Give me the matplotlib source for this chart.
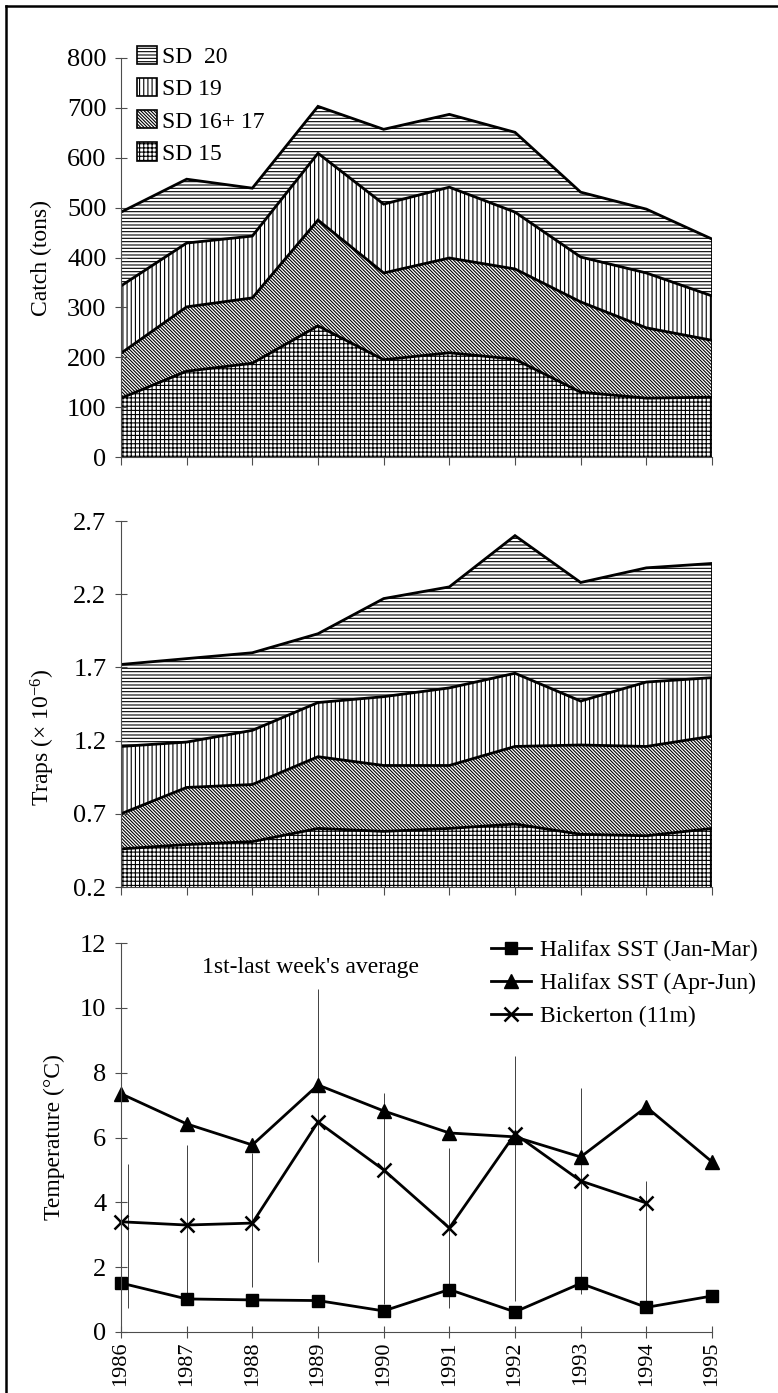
import numpy as np
import matplotlib
matplotlib.use("Agg")
import matplotlib.pyplot as plt
from matplotlib.patches import Patch
from matplotlib.lines import Line2D

# ---- data ----
years = [1986, 1987, 1988, 1989, 1990, 1991, 1992, 1993, 1994, 1995]

# catch (tons) per area, stacked bottom -> top
catch_sd15 = [118, 172, 188, 263, 195, 209, 196, 130, 118, 120]
catch_sd1617 = [90, 129, 131, 212, 174, 190, 181, 181, 141, 114]
catch_sd19 = [135, 128, 124, 134, 138, 142, 114, 90, 110, 89]
catch_sd20 = [148, 128, 96, 94, 150, 146, 160, 130, 128, 114]

# traps (x 10^-6) per area, stacked bottom -> top
traps_sd15 = [0.46, 0.49, 0.51, 0.60, 0.58, 0.60, 0.63, 0.56, 0.55, 0.60]
traps_sd1617 = [0.24, 0.39, 0.39, 0.49, 0.45, 0.43, 0.53, 0.61, 0.61, 0.63]
traps_sd19 = [0.46, 0.31, 0.37, 0.37, 0.47, 0.53, 0.50, 0.30, 0.44, 0.40]
traps_sd20 = [0.56, 0.57, 0.53, 0.47, 0.67, 0.69, 0.94, 0.81, 0.78, 0.78]

layer_labels = ["SD 15", "SD 16+ 17", "SD 19", "SD  20"]
layer_hatches = ["++++", "\\" * 10, "||||", "-----"]

# temperature
sst_janmar = [1.51, 1.02, 0.99, 0.97, 0.65, 1.31, 0.62, 1.50, 0.76, 1.11]
sst_aprjun = [7.35, 6.42, 5.77, 7.62, 6.82, 6.14, 6.02, 5.40, 6.94, 5.25]
bick_years = [1986, 1987, 1988, 1989, 1990, 1991, 1992, 1993, 1994]
bickerton = [3.40, 3.30, 3.36, 6.48, 5.00, 3.21, 6.11, 4.66, 3.98]
bick_low = [0.73, 1.05, 1.39, 2.17, 0.85, 0.73, 0.95, 1.17, 0.87]
bick_high = [5.18, 5.77, 5.53, 10.58, 7.38, 5.67, 8.50, 7.52, 4.66]

plt.rcParams['font.family'] = ['Liberation Serif', 'DejaVu Serif']
plt.rcParams['mathtext.fontset'] = 'custom'
plt.rcParams['mathtext.rm'] = 'Liberation Serif'
plt.rcParams['mathtext.it'] = 'Liberation Serif:italic'
plt.rcParams['font.size'] = 17
plt.rcParams['hatch.linewidth'] = 0.8

TICK_FS = 19
W, H = 778, 1393
fig = plt.figure(figsize=(W / 100, H / 100), dpi=100)


def px_axes(left, top, right, bottom):
    return fig.add_axes([left / W, 1 - bottom / H, (right - left) / W, (bottom - top) / H])


def style_axes(ax, xdir):
    for s in ("top", "right"):
        ax.spines[s].set_visible(False)
    for s in ("left", "bottom"):
        ax.spines[s].set_color("0.3")
        ax.spines[s].set_linewidth(0.8)
    ax.tick_params(axis="y", direction="inout", length=9, width=0.8, color="0.3",
                   pad=6, labelsize=TICK_FS)
    ax.tick_params(axis="x", direction=xdir, length=6 if xdir == "out" else 9,
                   width=0.8, color="0.3", labelsize=TICK_FS)
    ax.set_xlim(years[0], years[-1])
    ax.set_xticks(years)


def draw_stack(ax, layers, ymin):
    base = np.zeros(len(years))
    for vals, hatch in zip(layers, layer_hatches):
        top = base + np.array(vals)
        ax.fill_between(years, base, top, facecolor="white", edgecolor="black",
                        hatch=hatch, linewidth=0)
        ax.plot(years, top, color="black", lw=2, solid_joinstyle="miter")
        base = top
    ax.vlines(years[-1], ymin, base[-1], color="black", lw=2)


# ---- top: catch ----
ax1 = px_axes(121, 58, 712, 457)
draw_stack(ax1, [catch_sd15, catch_sd1617, catch_sd19, catch_sd20], 0)
style_axes(ax1, "out")
ax1.set_ylim(0, 800)
ax1.set_yticks(range(0, 801, 100))
ax1.set_xticklabels([])
ax1.set_ylabel("Catch (tons)")
ax1.yaxis.set_label_coords(-0.117, 0.5)

handles = [Patch(facecolor="white", edgecolor="black", hatch=h, linewidth=1.2)
           for h in layer_hatches][::-1]
fig.legend(handles, layer_labels[::-1], loc="upper left",
           bbox_to_anchor=(137 / W, 1 - 46 / H), frameon=False,
           handlelength=0.85, handleheight=0.8, handletextpad=0.2,
           labelspacing=0.42, borderpad=0, borderaxespad=0, fontsize=17)

# ---- middle: traps ----
ax2 = px_axes(121, 521, 712, 887)
draw_stack(ax2, [traps_sd15, traps_sd1617, traps_sd19, traps_sd20], 0.2)
style_axes(ax2, "out")
ax2.set_ylim(0.2, 2.7)
ax2.set_yticks([0.2, 0.7, 1.2, 1.7, 2.2, 2.7])
ax2.set_xticklabels([])
ax2.set_ylabel("Traps (× 10$^{-6}$)")
ax2.yaxis.set_label_coords(-0.108, 0.41)

# ---- bottom: temperature ----
ax3 = px_axes(121, 943, 712, 1332)
# 1st-last week ranges (1986 bar nudged off the y axis as in the original)
bar_x = np.array(bick_years, dtype=float)
bar_x[0] += 0.1
ax3.vlines(bar_x, bick_low, bick_high, color="0.25", lw=0.7)
ax3.plot(years, sst_janmar, color="black", lw=2, marker="s", ms=9, clip_on=False,
         label="Halifax SST (Jan-Mar)")
ax3.plot(years, sst_aprjun, color="black", lw=2, marker="^", ms=10, clip_on=False,
         label="Halifax SST (Apr-Jun)")
ax3.plot(bick_years, bickerton, color="black", lw=2, marker="x", ms=10, mew=1.8,
         clip_on=False, label="Bickerton (11m)")
style_axes(ax3, "inout")
ax3.set_ylim(0, 12)
ax3.set_yticks(range(0, 13, 2))
ax3.set_xticklabels([str(y) for y in years], rotation=90, fontsize=16)
ax3.tick_params(axis="x", pad=2)
ax3.set_ylabel("Temperature (°C)")
ax3.yaxis.set_label_coords(-0.095, 0.5)
fig.legend(*ax3.get_legend_handles_labels(), loc="upper left",
           bbox_to_anchor=(491 / W, 1 - 940 / H), frameon=False,
           handlelength=1.7, handletextpad=0.38, labelspacing=0.48,
           borderpad=0, borderaxespad=0, fontsize=17)
fig.text(310 / W, 1 - 968 / H, "1st-last week's average", ha="center", va="center",
         fontsize=17)

# page frame
fig.add_artist(Line2D([6 / W, 6 / W], [0, 1 - 6 / H], color="black", lw=1.8))
fig.add_artist(Line2D([6 / W, 1], [1 - 6 / H, 1 - 6 / H], color="black", lw=1.8))

fig.savefig("out.png", dpi=100)
